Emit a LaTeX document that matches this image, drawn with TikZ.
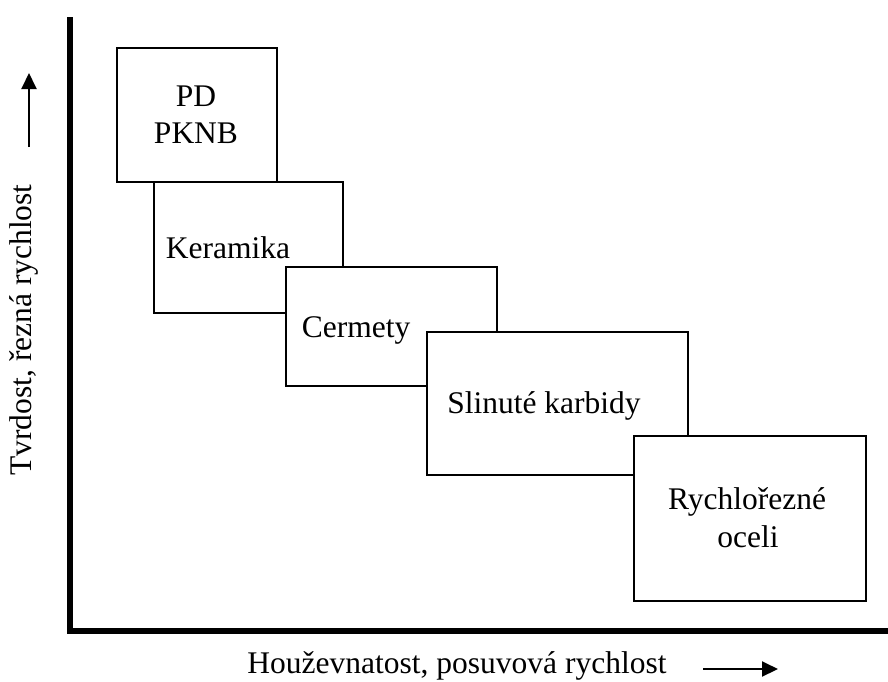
\documentclass[tikz,border=0pt]{standalone}
\usepackage{fontspec}
\setmainfont{Liberation Serif}
\usetikzlibrary{arrows.meta}
\begin{document}
\begin{tikzpicture}[x=1pt,y=-1pt,
  box/.style={draw=black,fill=white,line width=2.5pt,line join=miter},
  lbl/.style={font=\fontsize{31.5}{37}\selectfont,inner sep=0pt,anchor=base},
  axis/.style={line width=6pt,line join=miter},
  dirarrow/.style={line width=2pt,-{Triangle[length=16pt,width=15pt]}}]
\useasboundingbox (0,0) rectangle (888,681);
% axes
\coordinate (ytop) at (70,17);
\coordinate (origin) at (70,631);
\coordinate (xend) at (888,631);
\draw[axis] (ytop) -- (origin) -- (xend);
% boxes
\draw[box] (117,48) rectangle (277,182);
\draw[box] (154,182) rectangle (343,313);
\draw[box] (286,267) rectangle (497,386);
\draw[box] (427,332) rectangle (688,475);
\draw[box] (634,436) rectangle (866,601);
% box texts
\node[lbl] (pd) at (196,106) {PD};
\node[lbl] (pknb) at (196,143) {PKNB};
\node[lbl] (ker) at (228,258) {Keramika};
\node[lbl] (cer) at (356,337) {Cermety};
\node[lbl] (sk) at (544,413) {Slinuté karbidy};
\node[lbl] (ry) at (747,509) {Rychlořezné};
\node[lbl] (oc) at (748,547) {oceli};
% axis labels
\node[lbl,rotate=90] (ylab) at (31,330) {Tvrdost, řezná rychlost};
\node[lbl] (xlab) at (457,673) {Houževnatost, posuvová rychlost};
% direction arrows
\coordinate (ya0) at (29,147);
\coordinate (ya1) at (29,73);
\draw[dirarrow] (ya0) -- (ya1);
\coordinate (xa0) at (703,669);
\coordinate (xa1) at (778,669);
\draw[dirarrow] (xa0) -- (xa1);
\end{tikzpicture}
\end{document}
